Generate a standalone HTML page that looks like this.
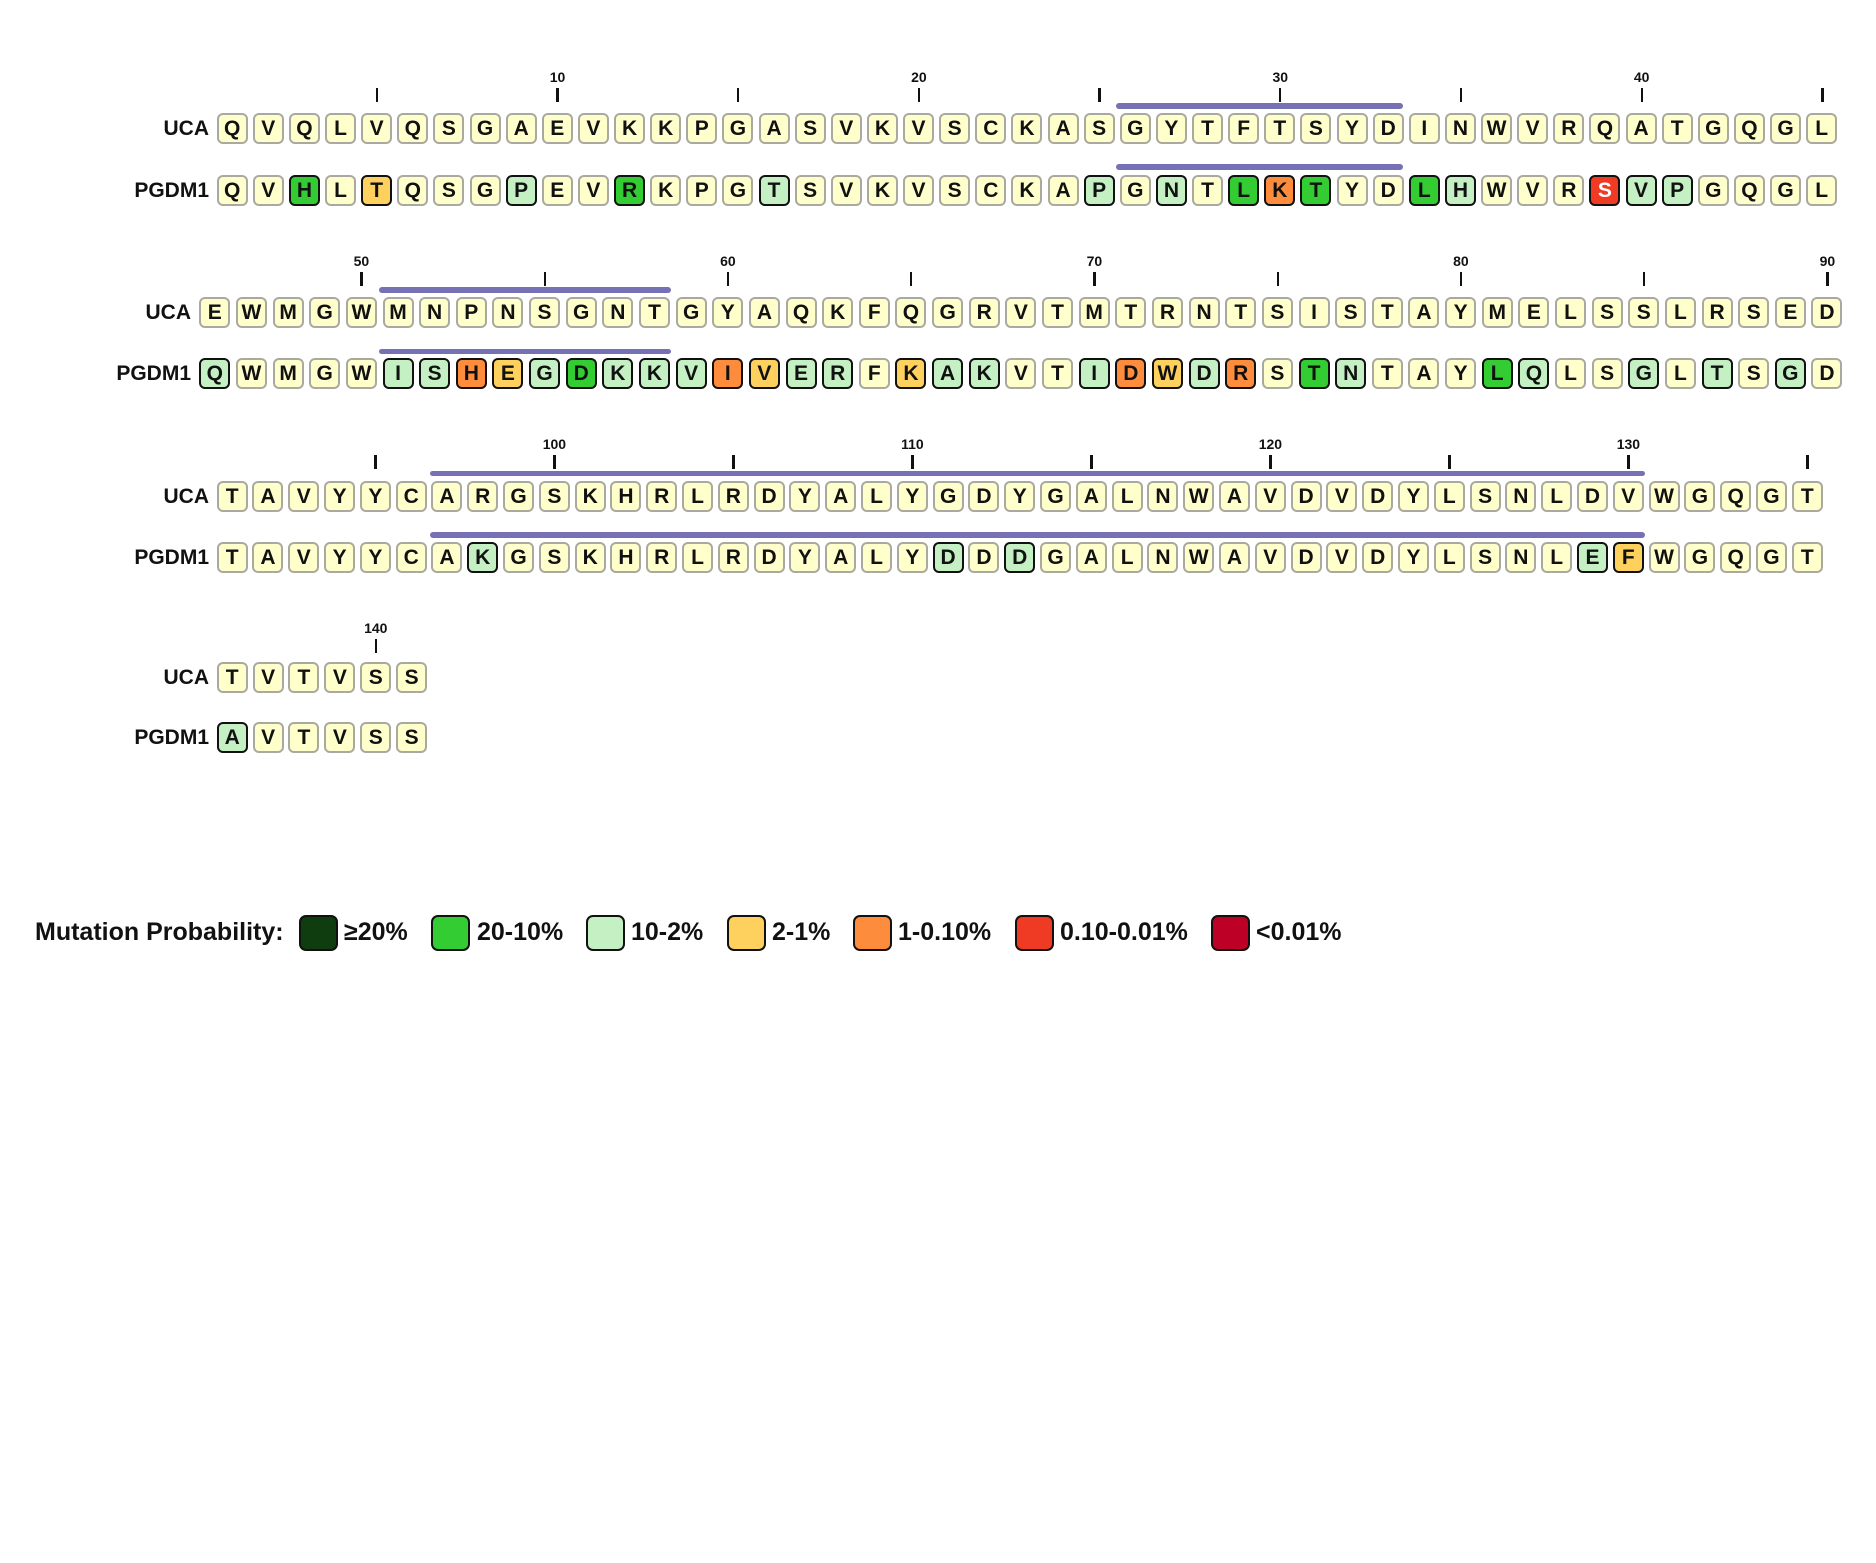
<!DOCTYPE html>
<html><head><meta charset="utf-8"><style>
html,body{margin:0;padding:0;background:#fff;}
body{width:1876px;height:1563px;position:relative;overflow:hidden;font-family:"Liberation Sans",Arial,sans-serif;color:#111;}
.row{position:absolute;display:flex;height:31px;}
.row span{box-sizing:border-box;width:31px;height:31px;flex:none;border:2px solid #aaa9a0;border-radius:6px;background:#ffffcc;display:flex;align-items:center;justify-content:center;font-weight:bold;font-size:21px;line-height:1;}
.row span.g,.row span.l,.row span.y,.row span.o,.row span.r{border:2.5px solid #111;}
.g{background:#33cc33!important}
.l{background:#c4f0c4!important}
.y{background:#fed05e!important}
.o{background:#fd8c3c!important}
.r{background:#ef3b24!important;color:#fff}
.r1{left:216.7px;gap:5.14px}
.r2{left:199.3px;gap:5.65px}
.r3{left:216.7px;gap:4.8px}
.r4{left:216.7px;gap:4.9px}
.lab{position:absolute;font-weight:bold;font-size:21px;text-align:right;width:180px;line-height:31px;height:31px;}
.t{position:absolute;width:2.4px;height:14px;background:#111;}
.n{position:absolute;width:60px;text-align:center;font-weight:bold;font-size:14px;line-height:16px;}
.bar{position:absolute;height:5.5px;border-radius:3px;background:#7670b4;}
.leg{position:absolute;top:914px;height:36px;font-weight:bold;font-size:25px;line-height:36px;}
.sw{position:absolute;top:915px;width:39px;height:36px;box-sizing:border-box;border:2.5px solid #111;border-radius:7px;}
</style></head><body>

<!-- Row 1 -->
<div class="t" style="left:375.6px;top:88px"></div>
<div class="t" style="left:556.3px;top:88px"></div><div class="n" style="left:527.5px;top:69px">10</div>
<div class="t" style="left:737px;top:88px"></div>
<div class="t" style="left:917.7px;top:88px"></div><div class="n" style="left:888.9px;top:69px">20</div>
<div class="t" style="left:1098.4px;top:88px"></div>
<div class="t" style="left:1279.1px;top:88px"></div><div class="n" style="left:1250.3px;top:69px">30</div>
<div class="t" style="left:1459.8px;top:88px"></div>
<div class="t" style="left:1640.5px;top:88px"></div><div class="n" style="left:1611.7px;top:69px">40</div>
<div class="t" style="left:1821.2px;top:88px"></div>
<div class="bar" style="left:1116px;width:287px;top:103.3px"></div>
<div class="bar" style="left:1116px;width:287px;top:164.3px"></div>
<div class="lab" style="left:29px;top:113.3px">UCA</div>
<div class="row r1" style="top:113.3px"><span>Q</span><span>V</span><span>Q</span><span>L</span><span>V</span><span>Q</span><span>S</span><span>G</span><span>A</span><span>E</span><span>V</span><span>K</span><span>K</span><span>P</span><span>G</span><span>A</span><span>S</span><span>V</span><span>K</span><span>V</span><span>S</span><span>C</span><span>K</span><span>A</span><span>S</span><span>G</span><span>Y</span><span>T</span><span>F</span><span>T</span><span>S</span><span>Y</span><span>D</span><span>I</span><span>N</span><span>W</span><span>V</span><span>R</span><span>Q</span><span>A</span><span>T</span><span>G</span><span>Q</span><span>G</span><span>L</span></div>
<div class="lab" style="left:29px;top:175px">PGDM1</div>
<div class="row r1" style="top:175px"><span>Q</span><span>V</span><span class="g">H</span><span>L</span><span class="y">T</span><span>Q</span><span>S</span><span>G</span><span class="l">P</span><span>E</span><span>V</span><span class="g">R</span><span>K</span><span>P</span><span>G</span><span class="l">T</span><span>S</span><span>V</span><span>K</span><span>V</span><span>S</span><span>C</span><span>K</span><span>A</span><span class="l">P</span><span>G</span><span class="l">N</span><span>T</span><span class="g">L</span><span class="o">K</span><span class="g">T</span><span>Y</span><span>D</span><span class="g">L</span><span class="l">H</span><span>W</span><span>V</span><span>R</span><span class="r">S</span><span class="l">V</span><span class="l">P</span><span>G</span><span>Q</span><span>G</span><span>L</span></div>

<!-- Row 2 -->
<div class="t" style="left:360.2px;top:272px"></div><div class="n" style="left:331.4px;top:253px">50</div>
<div class="t" style="left:543.5px;top:272px"></div>
<div class="t" style="left:726.7px;top:272px"></div><div class="n" style="left:697.9px;top:253px">60</div>
<div class="t" style="left:910px;top:272px"></div>
<div class="t" style="left:1093.2px;top:272px"></div><div class="n" style="left:1064.4px;top:253px">70</div>
<div class="t" style="left:1276.5px;top:272px"></div>
<div class="t" style="left:1459.7px;top:272px"></div><div class="n" style="left:1430.9px;top:253px">80</div>
<div class="t" style="left:1643px;top:272px"></div>
<div class="t" style="left:1826.2px;top:272px"></div><div class="n" style="left:1797.4px;top:253px">90</div>
<div class="bar" style="left:378.7px;width:292px;top:287px"></div>
<div class="bar" style="left:378.7px;width:292px;top:348.6px"></div>
<div class="lab" style="left:11px;top:296.7px">UCA</div>
<div class="row r2" style="top:296.7px"><span>E</span><span>W</span><span>M</span><span>G</span><span>W</span><span>M</span><span>N</span><span>P</span><span>N</span><span>S</span><span>G</span><span>N</span><span>T</span><span>G</span><span>Y</span><span>A</span><span>Q</span><span>K</span><span>F</span><span>Q</span><span>G</span><span>R</span><span>V</span><span>T</span><span>M</span><span>T</span><span>R</span><span>N</span><span>T</span><span>S</span><span>I</span><span>S</span><span>T</span><span>A</span><span>Y</span><span>M</span><span>E</span><span>L</span><span>S</span><span>S</span><span>L</span><span>R</span><span>S</span><span>E</span><span>D</span></div>
<div class="lab" style="left:11px;top:358.3px">PGDM1</div>
<div class="row r2" style="top:358.3px"><span class="l">Q</span><span>W</span><span>M</span><span>G</span><span>W</span><span class="l">I</span><span class="l">S</span><span class="o">H</span><span class="y">E</span><span class="l">G</span><span class="g">D</span><span class="l">K</span><span class="l">K</span><span class="l">V</span><span class="o">I</span><span class="y">V</span><span class="l">E</span><span class="l">R</span><span>F</span><span class="y">K</span><span class="l">A</span><span class="l">K</span><span>V</span><span>T</span><span class="l">I</span><span class="o">D</span><span class="y">W</span><span class="l">D</span><span class="o">R</span><span>S</span><span class="g">T</span><span class="l">N</span><span>T</span><span>A</span><span>Y</span><span class="g">L</span><span class="l">Q</span><span>L</span><span>S</span><span class="l">G</span><span>L</span><span class="l">T</span><span>S</span><span class="l">G</span><span>D</span></div>

<!-- Row 3 -->
<div class="t" style="left:374.2px;top:455px"></div>
<div class="t" style="left:553.2px;top:455px"></div><div class="n" style="left:524.4px;top:436px">100</div>
<div class="t" style="left:732.2px;top:455px"></div>
<div class="t" style="left:911.2px;top:455px"></div><div class="n" style="left:882.4px;top:436px">110</div>
<div class="t" style="left:1090.2px;top:455px"></div>
<div class="t" style="left:1269.2px;top:455px"></div><div class="n" style="left:1240.4px;top:436px">120</div>
<div class="t" style="left:1448.2px;top:455px"></div>
<div class="t" style="left:1627.2px;top:455px"></div><div class="n" style="left:1598.4px;top:436px">130</div>
<div class="t" style="left:1806.2px;top:455px"></div>
<div class="bar" style="left:430px;width:1215px;top:470.7px"></div>
<div class="bar" style="left:430px;width:1215px;top:532px"></div>
<div class="lab" style="left:29px;top:480.7px">UCA</div>
<div class="row r3" style="top:480.7px"><span>T</span><span>A</span><span>V</span><span>Y</span><span>Y</span><span>C</span><span>A</span><span>R</span><span>G</span><span>S</span><span>K</span><span>H</span><span>R</span><span>L</span><span>R</span><span>D</span><span>Y</span><span>A</span><span>L</span><span>Y</span><span>G</span><span>D</span><span>Y</span><span>G</span><span>A</span><span>L</span><span>N</span><span>W</span><span>A</span><span>V</span><span>D</span><span>V</span><span>D</span><span>Y</span><span>L</span><span>S</span><span>N</span><span>L</span><span>D</span><span>V</span><span>W</span><span>G</span><span>Q</span><span>G</span><span>T</span></div>
<div class="lab" style="left:29px;top:542.3px">PGDM1</div>
<div class="row r3" style="top:542.3px"><span>T</span><span>A</span><span>V</span><span>Y</span><span>Y</span><span>C</span><span>A</span><span class="l">K</span><span>G</span><span>S</span><span>K</span><span>H</span><span>R</span><span>L</span><span>R</span><span>D</span><span>Y</span><span>A</span><span>L</span><span>Y</span><span class="l">D</span><span>D</span><span class="l">D</span><span>G</span><span>A</span><span>L</span><span>N</span><span>W</span><span>A</span><span>V</span><span>D</span><span>V</span><span>D</span><span>Y</span><span>L</span><span>S</span><span>N</span><span>L</span><span class="l">E</span><span class="y">F</span><span>W</span><span>G</span><span>Q</span><span>G</span><span>T</span></div>

<!-- Row 4 -->
<div class="t" style="left:374.6px;top:639px"></div><div class="n" style="left:345.8px;top:620px">140</div>
<div class="lab" style="left:29px;top:662.3px">UCA</div>
<div class="row r4" style="top:662.3px"><span>T</span><span>V</span><span>T</span><span>V</span><span>S</span><span>S</span></div>
<div class="lab" style="left:29px;top:722.3px">PGDM1</div>
<div class="row r4" style="top:722.3px"><span class="l">A</span><span>V</span><span>T</span><span>V</span><span>S</span><span>S</span></div>

<!-- Legend -->
<div class="leg" style="left:35px">Mutation Probability:</div>
<div class="sw" style="left:299px;background:#0f3d10"></div><div class="leg" style="left:344px">≥20%</div>
<div class="sw" style="left:431px;background:#33cc33"></div><div class="leg" style="left:477px">20-10%</div>
<div class="sw" style="left:586px;background:#c4f0c4"></div><div class="leg" style="left:631px">10-2%</div>
<div class="sw" style="left:727px;background:#fed05e"></div><div class="leg" style="left:772px">2-1%</div>
<div class="sw" style="left:853px;background:#fd8c3c"></div><div class="leg" style="left:898px">1-0.10%</div>
<div class="sw" style="left:1015px;background:#ef3b24"></div><div class="leg" style="left:1060px">0.10-0.01%</div>
<div class="sw" style="left:1211px;background:#bd0026"></div><div class="leg" style="left:1256px">&lt;0.01%</div>
</body></html>
